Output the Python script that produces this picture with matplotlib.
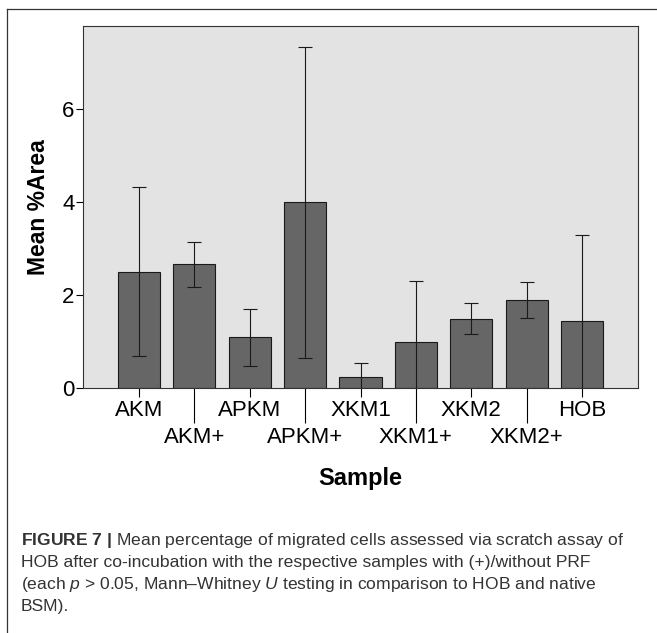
import matplotlib
matplotlib.use("Agg")
import matplotlib.pyplot as plt
from matplotlib.lines import Line2D
import numpy as np

plt.rcParams['font.family'] = ['Liberation Sans', 'DejaVu Sans']
plt.rcParams['mathtext.fontset'] = 'custom'
plt.rcParams['mathtext.rm'] = 'Liberation Sans'
plt.rcParams['mathtext.it'] = 'Liberation Sans:italic'
plt.rcParams['mathtext.bf'] = 'Liberation Sans:bold'

# samples and mean %area with the 95% CI
samples = ["AKM", "AKM+", "APKM", "APKM+", "XKM1", "XKM1+", "XKM2", "XKM2+", "HOB"]
means = [2.50, 2.66, 1.09, 4.00, 0.23, 0.98, 1.49, 1.89, 1.44]
ci_low = [0.69, 2.18, 0.48, 0.64, -0.07, -0.35, 1.16, 1.50, -0.41]
ci_high = [4.32, 3.14, 1.69, 7.33, 0.53, 2.31, 1.82, 2.28, 3.29]
yticks = [0, 2, 4, 6]

caption = [
    r"$\mathbf{FIGURE\ 7\ |}$ Mean percentage of migrated cells assessed via scratch assay of",
    "HOB after co-incubation with the respective samples with (+)/without PRF",
    r"(each $\mathit{p}$ > 0.05, Mann–Whitney $\mathit{U}$ testing in comparison to HOB and native",
    "BSM).",
]

x = np.arange(len(samples))
means = np.array(means)
err = np.array([means - np.array(ci_low), np.array(ci_high) - means])

fig = plt.figure(figsize=(6.57, 6.33), dpi=100)
ax = fig.add_axes([83 / 657, 1 - 388 / 633, (637.5 - 83) / 657, (388 - 26) / 633])
ax.set_facecolor("#e3e3e3")

ax.bar(x, means, width=0.76, color="#666666", edgecolor="#1a1a1a", linewidth=0.8, zorder=2)
ax.errorbar(x, means, yerr=err, fmt="none", ecolor="#1a1a1a", elinewidth=0.8,
            capsize=5, capthick=0.8, zorder=3)

ax.set_xlim(-1.01, 9.0)
ax.set_ylim(0, 7.78)
ax.set_yticks(yticks)
ax.tick_params(axis="y", length=5, width=0.8, labelsize=16, pad=1)

# alternating labels: even ones on a short tick, odd ones on a long tick below
ax.set_xticks(x[::2])
ax.set_xticklabels(samples[::2])
ax.set_xticks(x[1::2], minor=True)
ax.set_xticklabels(samples[1::2], minor=True)
ax.tick_params(axis="x", which="major", length=6.5, width=0.8, labelsize=16, pad=2)
ax.tick_params(axis="x", which="minor", length=25, width=0.8, labelsize=16, pad=3)

for s in ax.spines.values():
    s.set_color("#333333")
    s.set_linewidth(0.8)

ax.set_ylabel("Mean %Area", fontsize=16.5, fontweight="bold", labelpad=9)
ax.set_xlabel("Sample", fontsize=17, fontweight="bold", labelpad=14)

# frame round the figure panel
fig.add_artist(Line2D([7 / 657, 1], [1 - 9 / 633, 1 - 9 / 633], color="#333333", lw=0.9))
fig.add_artist(Line2D([7 / 657, 7 / 657], [0, 1 - 9 / 633], color="#333333", lw=0.9))

for i, line in enumerate(caption):
    fig.text(21 / 657, 1 - (541 + 22 * i) / 633, line, fontsize=12.6, color="#333333",
             va="center", ha="left")

fig.savefig("out.png", dpi=100)
